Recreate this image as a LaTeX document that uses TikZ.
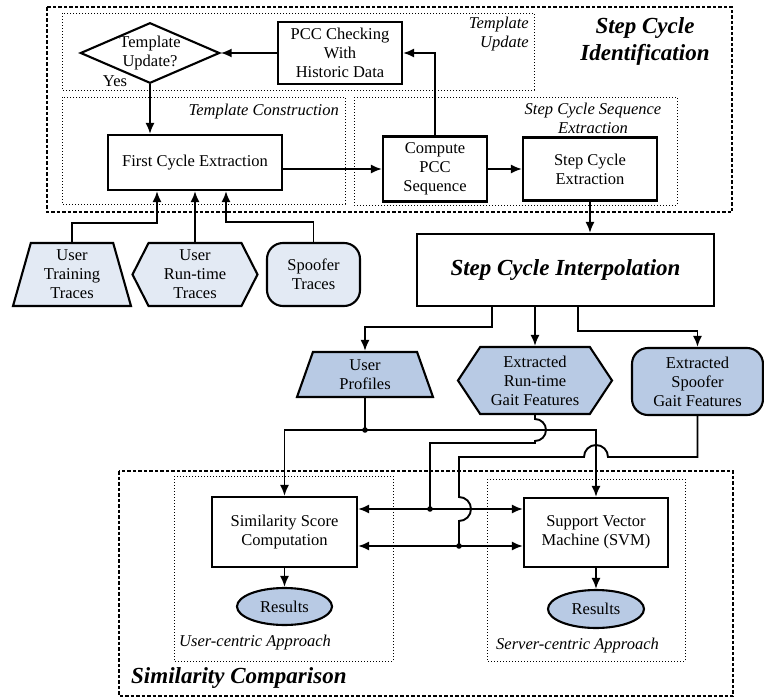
\documentclass[tikz,border=0pt]{standalone}
\usepackage{fontspec}
\setmainfont{Liberation Serif}
\usetikzlibrary{shapes.geometric, shapes.symbols, arrows.meta, positioning, calc}

\definecolor{lightfill}{RGB}{227,234,244}
\definecolor{darkfill}{RGB}{184,202,228}

\begin{document}
\begin{tikzpicture}[
    x=1pt, y=-1pt,
    font=\fontsize{16.5}{19}\selectfont,
    box/.style={rectangle, draw, line width=2.1pt, align=center, inner sep=0pt},
    decision/.style={diamond, draw, line width=2.1pt, align=center, inner sep=0pt, aspect=2.3},
    trap/.style={trapezium, draw, line width=2.1pt, align=center, inner sep=0pt, trapezium stretches body},
    hexa/.style={signal, signal to=west and east, draw, line width=2.1pt, align=center, inner sep=0pt},
    roundbox/.style={rectangle, rounded corners=16pt, draw, line width=2.1pt, align=center, inner sep=0pt},
    result/.style={ellipse, draw, line width=2.1pt, fill=darkfill, inner sep=0pt, minimum width=95pt, minimum height=37pt},
    zone/.style={line width=2pt, dash pattern=on 3.5pt off 2pt},
    subzone/.style={line width=1pt, dotted},
    tag/.style={font=\fontsize{16.5}{19}\selectfont\itshape, inner sep=0pt},
    title/.style={font=\fontsize{23}{27}\selectfont\bfseries\itshape, inner sep=0pt, align=center},
    arrow/.style={-{Latex[length=11pt,width=9pt]}, line width=1.9pt},
    dblarrow/.style={{Latex[length=11pt,width=9pt]}-{Latex[length=11pt,width=9pt]}, line width=1.9pt},
    link/.style={line width=1.9pt}
]
\useasboundingbox (0,0) rectangle (764,699);

% Frames of the two stages and their parts
\draw[zone] (47,7) rectangle (732,212);
\draw[subzone] (62,13) rectangle (534,90);
\draw[subzone] (62,97) rectangle (345,204);
\draw[subzone] (354,97) rectangle (677,205);
\draw[zone] (119,471) rectangle (733,696);
\draw[subzone] (174,476) rectangle (393,661);
\draw[subzone] (487,479) rectangle (685,661);

% Frame labels
\node[title] (identlabel) at (645,41) {Step Cycle\\Identification};
\node[title, anchor=west] (simlabel) at (131,678) {Similarity Comparison};
\node[tag, align=right, anchor=north east] (updatelabel) at (529,17) {Template\\Update};
\node[tag, anchor=east] (constrlabel) at (339,112) {Template Construction};
\node[tag, align=center] (seqlabel) at (593,118) {Step Cycle Sequence\\Extraction};
\node[tag, anchor=west] (userlabel) at (179,643) {User-centric Approach};
\node[tag, anchor=west] (serverlabel) at (496,646) {Server-centric Approach};

% Step cycle identification
\node[decision] (update) at (150,53) {Template\\Update?};
\node[inner sep=0pt] (yes) at (115,81) {Yes};
\node[box, minimum width=124pt, minimum height=62pt] (pcc) at (340,53) {PCC Checking\\With\\Historic Data};
\node[box, minimum width=174pt, minimum height=55pt] (first) at (195,162.5) {First Cycle Extraction};
\node[box, minimum width=104pt, minimum height=65pt] (compute) at (435,169) {Compute\\PCC\\Sequence};
\node[box, minimum width=134pt, minimum height=63pt] (stepext) at (590,169) {Step Cycle\\Extraction};
\node[box, minimum width=297pt, minimum height=72pt, font=\fontsize{23}{27}\selectfont\bfseries\itshape] (interp) at (565.5,270) {Step Cycle Interpolation};

% Input traces
\node[trap, fill=lightfill, trapezium left angle=70, trapezium right angle=70, minimum width=118pt, minimum height=63pt] (training) at (72,274.5) {User\\Training\\Traces};
\node[hexa, fill=lightfill, signal pointer angle=126, minimum width=125pt, minimum height=63pt] (runtime) at (195,274.5) {User\\Run-time\\Traces};
\node[roundbox, fill=lightfill, minimum width=93pt, minimum height=63pt] (spoofer) at (313.5,274.5) {Spoofer\\Traces};

% Extracted features
\node[trap, fill=darkfill, trapezium left angle=62, trapezium right angle=62, minimum width=136pt, minimum height=45pt] (profiles) at (365,374.5) {User\\Profiles};
\node[hexa, fill=darkfill, signal pointer angle=113, minimum width=154pt, minimum height=67pt] (runfeat) at (535,380.5) {Extracted\\Run-time\\Gait Features};
\node[roundbox, fill=darkfill, minimum width=131pt, minimum height=67pt] (spoofeat) at (697.5,381.5) {Extracted\\Spoofer\\Gait Features};

% Similarity comparison
\node[box, minimum width=145pt, minimum height=70pt] (simscore) at (284.5,532) {Similarity Score\\Computation};
\node[box, minimum width=144pt, minimum height=69pt] (svm) at (596,532.5) {Support Vector\\Machine (SVM)};
\node[result] (userres) at (284.5,606.5) {Results};
\node[result, minimum width=96pt, minimum height=38pt] (serverres) at (596,609) {Results};

% Bends and junctions
\coordinate (feedA) at (157,223);
\coordinate (feedC) at (226,222);
\coordinate (outA) at (492,327);
\coordinate (outC) at (578,331);
\coordinate (j1) at (365,430);
\coordinate (j2) at (430,509);
\coordinate (j3) at (459,546);
\coordinate (hopA) at (596,457);
\coordinate (hopB) at (459,509);

% Arrows
\draw[arrow] (pcc.west) -- (update.east);
\draw[arrow] (update.south) -- (update.south |- first.north);
\draw[arrow] (first.east |- compute.west) -- (compute.west);
\draw[arrow] (compute.north) |- (pcc.east);
\draw[arrow] (compute.east) -- (stepext.west);
\draw[arrow] (stepext.south) -- (stepext.south |- interp.north);

\draw[arrow] (training.north) |- (feedA) -- (feedA |- first.south);
\draw[arrow] (runtime.north) -- (runtime.north |- first.south);
\draw[arrow] (spoofer.north) |- (feedC) -- (feedC |- first.south);

\draw[arrow] (outA |- interp.south) -- (outA) -| (profiles.north);
\draw[arrow] (interp.south -| runfeat.north) -- (runfeat.north);
\draw[arrow] (outC |- interp.south) -- (outC) -| (spoofeat.north);

\draw[link] (profiles.south) -- (j1);
\draw[arrow] (j1) -| (simscore.north);
\draw[arrow] (j1) -| (svm.north);
\draw[link] (runfeat.south) -- ($(runfeat.south |- j1)+(0,-11)$) arc (-90:90:11) -- ++(0,2) -| (j2);
\draw[link] (spoofeat.south) |- ($(hopA)+(12,0)$) arc (0:-180:12) -| ($(hopB)+(0,-12)$) arc (-90:90:12) -- (j3);
\draw[dblarrow] (simscore.east |- j2) -- (svm.west |- j2);
\draw[dblarrow] (simscore.east |- j3) -- (svm.west |- j3);
\fill (j1) circle (2.8pt) (j2) circle (2.8pt) (j3) circle (2.8pt);

\draw[arrow] (simscore.south) -- (userres.north);
\draw[arrow] (svm.south) -- (serverres.north);

\end{tikzpicture}
\end{document}
